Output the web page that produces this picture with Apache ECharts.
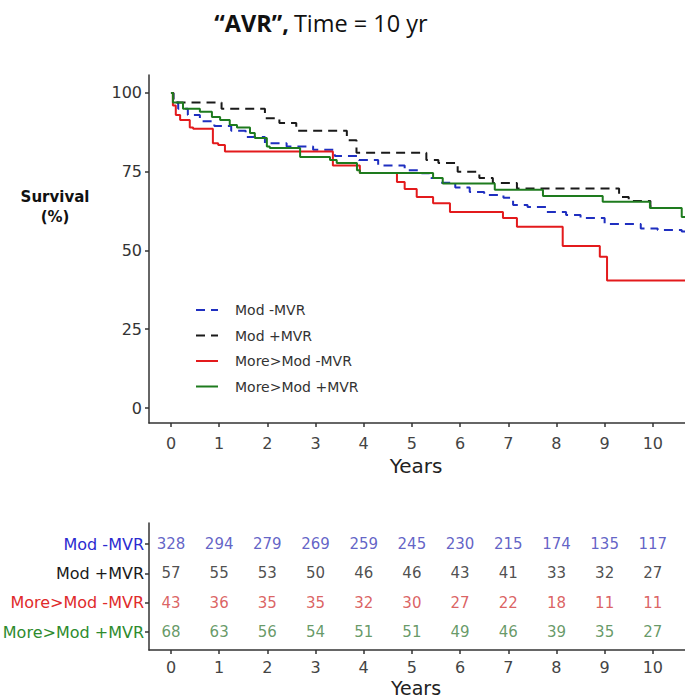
<!DOCTYPE html>
<html>
<head>
<meta charset="utf-8">
<script src="https://cdn.jsdelivr.net/npm/echarts@6/dist/echarts.min.js"></script>
<style>html,body{margin:0;padding:0;background:#fff}#c{width:685px;height:700px}</style>
</head>
<body>
<div id="c"></div>
<script>
// ---- data ----
var seriesNames = ['Mod -MVR', 'Mod +MVR', 'More>Mod -MVR', 'More>Mod +MVR'];
var yTicks = [0, 25, 50, 75, 100];
var xTicks = [0, 1, 2, 3, 4, 5, 6, 7, 8, 9, 10];
// Kaplan-Meier step points [years, survival %]
var modMinus = [[0,100],[0.05,97],[0.15,95],[0.35,93],[0.6,91],[0.9,89.5],[1.25,88],[1.55,86],[1.95,84],[2.4,83],[2.95,82],[3.4,80],[3.9,78.7],[4.3,77],[4.85,75.5],[5.2,74.5],[5.4,73],[5.6,71.5],[5.9,70],[6.2,68.6],[6.5,67.6],[6.9,66.7],[7.1,64.4],[7.4,63.8],[7.8,62.2],[8.2,61.3],[8.5,60.3],[9.0,58.4],[9.75,57],[10.1,56.5],[10.6,56],[11,56]];
var modPlus = [[0,100],[0.05,97],[1.05,95],[1.95,92],[2.25,90.5],[2.6,88],[3.65,85],[3.85,81],[5.3,78.7],[5.55,77.8],[5.95,75],[6.4,73],[6.68,71.4],[7.18,69.7],[9.3,67],[9.5,65.7],[9.95,64],[10.05,63.5],[11,63.5]];
var moreMinus = [[0,100],[0.04,96],[0.1,93],[0.19,91.4],[0.39,89],[0.46,88.6],[0.87,84],[0.98,83.5],[1.12,81.4],[3.36,77],[3.92,74.6],[4.69,71.7],[4.85,69.5],[5.1,67],[5.44,65],[5.79,62.2],[6.89,60.3],[7.18,57.5],[8.13,51.4],[8.9,48],[9.05,40.5],[11,40.5]];
var morePlus = [[0,100],[0.04,97],[0.25,95],[0.6,94],[0.85,92.4],[1.02,91.4],[1.22,89.8],[1.37,89],[1.64,87.3],[1.74,85.7],[1.99,83],[2.05,82.5],[2.68,79.7],[3.3,78.7],[3.44,77.8],[3.86,75.5],[3.92,74.6],[5.44,73],[5.64,71.3],[6.72,69.3],[7.72,67.3],[8.96,65.5],[9.94,63.5],[10.6,60.6],[11,60.6]];
// numbers at risk
var riskYears = [0, 1, 2, 3, 4, 5, 6, 7, 8, 9, 10];
var riskModMinus = [328, 294, 279, 269, 259, 245, 230, 215, 174, 135, 117];
var riskModPlus = [57, 55, 53, 50, 46, 46, 43, 41, 33, 32, 27];
var riskMoreMinus = [43, 36, 35, 35, 32, 30, 27, 22, 18, 11, 11];
var riskMorePlus = [68, 63, 56, 54, 51, 51, 49, 46, 39, 35, 27];

// ---- styling ----
var lineColors = ['#1f2fc0', '#1a1a1a', '#e31a1c', '#1e7b1e'];
var labelColors = ['#2b2bd0', '#1a1a1a', '#e02b2b', '#2e8b2e'];
var numColors = ['#3a3ab8', '#222222', '#d23a3a', '#3f7f3f'];
var lineTypes = [[9, 6], [9, 6], 'solid', 'solid'];
var curves = [modMinus, modPlus, moreMinus, morePlus];
var risks = [riskModMinus, riskModPlus, riskMoreMinus, riskMorePlus];
var font = 'DejaVu Sans, Arial, sans-serif';

var chart = echarts.init(document.getElementById('c'), null, {renderer: 'svg'});

var series = [];
curves.forEach(function (d, i) {
  series.push({
    name: seriesNames[i], type: 'line', step: 'end', xAxisIndex: 0, yAxisIndex: 0,
    data: d, showSymbol: false, symbol: 'none', z: i === 3 ? 3 : 2,
    lineStyle: {color: lineColors[i], width: 2, type: lineTypes[i]},
    itemStyle: {color: lineColors[i]}
  });
});
risks.forEach(function (r, i) {
  series.push({
    name: 'risk ' + seriesNames[i], type: 'scatter', xAxisIndex: 1, yAxisIndex: 1,
    symbolSize: 1, itemStyle: {color: 'rgba(0,0,0,0)'},
    data: riskYears.map(function (y, k) { return [y, i + 1, r[k]]; }),
    label: {show: true, position: 'inside', formatter: function (p) { return p.value[2]; },
      color: numColors[i], fontSize: 15, fontFamily: font},
    silent: true
  });
});

var axisLine = {show: true, onZero: false, lineStyle: {color: '#333', width: 1.5}};
var axisTick = {show: true, length: 4, lineStyle: {color: '#333', width: 1.5}};

chart.setOption({
  animation: false,
  backgroundColor: '#fff',
  title: {
    text: '{b|\u201cAVR\u201d,} {r|Time = 10 yr}',
    left: 316, top: 6, textAlign: 'center',
    textStyle: {fontWeight: 'normal', rich: {
      b: {fontSize: 23.5, fontWeight: 'bold', color: '#111', fontFamily: 'Open Sans, Lato, sans-serif'},
      r: {fontSize: 23.5, fontWeight: 'normal', color: '#111', fontFamily: 'Open Sans, Lato, sans-serif'}
    }}
  },
  legend: {
    data: seriesNames, orient: 'vertical', left: 190, top: 298,
    itemWidth: 22, itemHeight: 14, itemGap: 11.5,
    itemStyle: {opacity: 0},
    textStyle: {fontSize: 14, color: '#333', fontFamily: font, padding: [0, 0, 0, 12]}
  },
  graphic: [{
    type: 'text', x: 55, y: 187,
    style: {text: 'Survival\n(%)', fontSize: 15, fontWeight: 'bold', fill: '#111',
      fontFamily: font, align: 'center', lineHeight: 20}
  }],
  grid: [
    {left: 149, top: 75, width: 552, height: 348, outerBoundsMode: 'none', containLabel: false},
    {left: 149, top: 523, width: 552, height: 127, outerBoundsMode: 'none', containLabel: false}
  ],
  xAxis: [
    {gridIndex: 0, type: 'value', min: -0.456, max: 11, splitLine: {show: false},
      axisLine: axisLine, axisTick: Object.assign({customValues: xTicks}, axisTick),
      axisLabel: {customValues: xTicks, fontSize: 16, color: '#444', margin: 12, fontFamily: font},
      name: 'Years', nameLocation: 'middle', nameGap: 33,
      nameTextStyle: {fontSize: 20, color: '#222', fontFamily: font, padding: [0, 18, 0, 0]}},
    {gridIndex: 1, type: 'value', min: -0.456, max: 11, splitLine: {show: false},
      axisLine: axisLine, axisTick: Object.assign({customValues: xTicks}, axisTick),
      axisLabel: {customValues: xTicks, fontSize: 16, color: '#444', margin: 9, fontFamily: font},
      name: 'Years', nameLocation: 'middle', nameGap: 28,
      nameTextStyle: {fontSize: 19, color: '#222', fontFamily: font, padding: [0, 18, 0, 0]}}
  ],
  yAxis: [
    {gridIndex: 0, type: 'value', min: -4.76, max: 105.7, splitLine: {show: false},
      axisLine: axisLine, axisTick: Object.assign({customValues: yTicks}, axisTick),
      axisLabel: {customValues: yTicks, fontSize: 16, color: '#333', margin: 7, fontFamily: font}},
    {gridIndex: 1, type: 'value', inverse: true, min: 0.284, max: 4.61, splitLine: {show: false},
      axisLine: axisLine, axisTick: Object.assign({customValues: [1, 2, 3, 4]}, axisTick),
      axisLabel: {customValues: [1, 2, 3, 4], fontSize: 16, margin: 5, fontFamily: font,
        formatter: function (v) { return seriesNames[Math.round(v) - 1]; },
        color: function (v) { return labelColors[Math.round(v) - 1]; }}}
  ],
  series: series
});
</script>
</body>
</html>
